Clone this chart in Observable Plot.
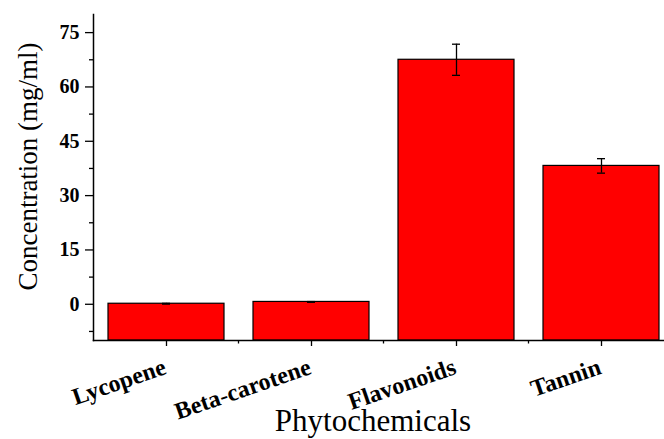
<!DOCTYPE html>
<html><head><meta charset="utf-8">
<script src="https://cdn.jsdelivr.net/npm/d3@7"></script>
<script src="https://cdn.jsdelivr.net/npm/@observablehq/plot@0.6"></script>
<style>body{margin:0;background:#fff}</style>
</head><body><div id="chart"></div>
<script>
const categories = ["Lycopene", "Beta-carotene", "Flavonoids", "Tannin"];
const values = [0.15, 0.65, 67.5, 38.2];
const errors = [0.1, 0.1, 4.3, 2.0];
const yMajorTicks = [0, 15, 30, 45, 60, 75];
const yMinorTicks = [-7.5, 7.5, 22.5, 37.5, 52.5, 67.5];
const yDomain = [-10, 80];
const xTitle = "Phytochemicals";
const yTitle = "Concentration (mg/ml)";

const data = categories.map((c, i) => ({
  category: c, value: values[i], lo: values[i] - errors[i], hi: values[i] + errors[i]
}));

// minor ticks between the category bands, drawn from the x scale
function minorXTicks(index, scales, vals, dims) {
  const x = scales.x;
  const step = x(categories[1]) - x(categories[0]);
  let bw = x.bandwidth;
  if (typeof bw === "function") bw = bw();
  if (!isFinite(bw)) bw = step * 0.8;
  const y0 = scales.y(yDomain[0]);
  const g = d3.create("svg:g").attr("stroke", "#000").attr("stroke-width", 1.3);
  for (let i = 0; i < categories.length - 1; i++) {
    const bx = (x(categories[i]) + bw + x(categories[i + 1])) / 2;
    if (!isFinite(bx)) continue;
    g.append("line").attr("x1", bx).attr("x2", bx).attr("y1", y0).attr("y2", y0 + 3.5);
  }
  return g.node();
}

const chart = Plot.plot({
  width: 664,
  height: 439,
  marginLeft: 93,
  marginRight: 0,
  marginTop: 14,
  marginBottom: 99,
  style: {fontFamily: "'Liberation Serif', 'Times New Roman', serif", background: "#fff", color: "#000"},
  x: {domain: categories, range: [93, 673], paddingInner: 0.2, paddingOuter: 0.1},
  y: {domain: yDomain},
  marks: [
    Plot.barY(data, {x: "category", y1: yDomain[0], y2: "value", fill: "#ff0000", stroke: "#000", strokeWidth: 1.2}),
    Plot.ruleX(data, {x: "category", y1: "lo", y2: "hi", stroke: "#000", strokeWidth: 1.3}),
    Plot.tickY(data, {x: "category", y: "lo", stroke: "#000", strokeWidth: 1.3, insetLeft: 54, insetRight: 54}),
    Plot.tickY(data, {x: "category", y: "hi", stroke: "#000", strokeWidth: 1.3, insetLeft: 54, insetRight: 54}),
    Plot.axisY({ticks: yMajorTicks, tickSize: 8, tickPadding: 6, fontSize: 20, fontWeight: "bold", label: null, strokeWidth: 1.3}),
    Plot.axisY({ticks: yMinorTicks, tickSize: 4, tickFormat: () => "", label: null, strokeWidth: 1.3}),
    Plot.axisX({tickSize: 6, tickFormat: () => "", label: null, strokeWidth: 1.3}),
    minorXTicks,
    Plot.frame({anchor: "left", stroke: "#000", strokeWidth: 1.5}),
    Plot.frame({anchor: "bottom", stroke: "#000", strokeWidth: 1.5}),
    Plot.text(categories, {x: d => d, y: yDomain[0], textAnchor: "end", lineAnchor: "bottom", rotate: -19, dy: 33, dx: 1, fontSize: 24, fontWeight: "bold", fill: "#000"}),
    Plot.text([yTitle], {frameAnchor: "left", textAnchor: "middle", lineAnchor: "middle", rotate: -90, dx: -65, dy: -11, fontSize: 27, fill: "#000"}),
    Plot.text([xTitle], {frameAnchor: "bottom", textAnchor: "middle", lineAnchor: "bottom", dx: -6, dy: 90, fontSize: 31, fill: "#000"})
  ]
});
document.getElementById("chart").appendChild(chart);
</script>
</body></html>
